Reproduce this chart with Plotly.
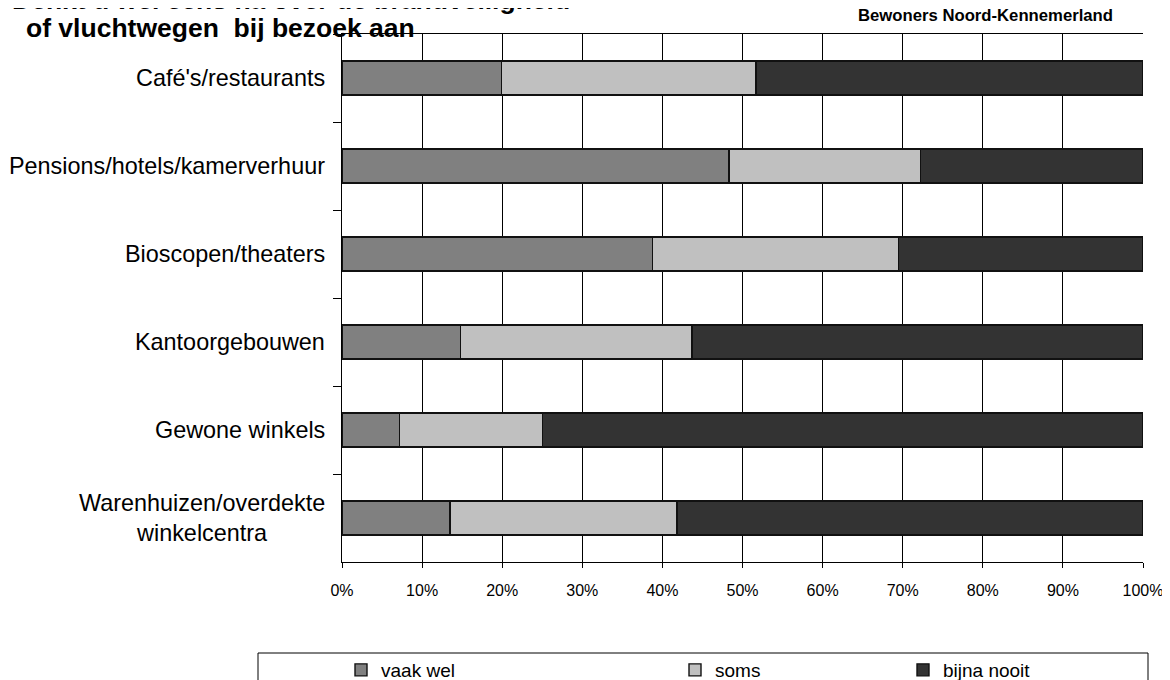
import plotly.graph_objects as go

categories = ["Café's/restaurants", "Pensions/hotels/kamerverhuur", "Bioscopen/theaters",
              "Kantoorgebouwen", "Gewone winkels", "Warenhuizen/overdekte<br>winkelcentra"]
series_names = ["vaak wel", "soms", "bijna nooit"]
vaak_wel = [19.9, 48.3, 38.8, 14.8, 7.2, 13.5]
soms = [31.8, 23.9, 30.7, 28.9, 17.8, 28.3]
bijna_nooit = [48.3, 27.8, 30.5, 56.3, 75.0, 58.2]
x_ticks = [0, 10, 20, 30, 40, 50, 60, 70, 80, 90, 100]
title_line1 = "Denkt u wel eens na over de brandveiligheid"
title_line2 = "of vluchtwegen  bij bezoek aan"
subtitle = "Bewoners Noord-Kennemerland"

colors = ["#808080", "#C0C0C0", "#333333"]
FONT = "Arial, Liberation Sans, Helvetica, sans-serif"

OFF = 8  # page body margin
W, H = 1170 - OFF, 680 - OFF
PLOT_L, PLOT_R, PLOT_T, PLOT_B = 342, 1143, 34, 562  # page pixel coords
ML = PLOT_L - OFF
MR = W - (PLOT_R - OFF)
MT = PLOT_T - OFF
MB = H - (PLOT_B - OFF)
PW = PLOT_R - PLOT_L
PH = PLOT_B - PLOT_T

def px_x(p):
    return (p - PLOT_L) / PW

def px_y(p):
    return (PLOT_B - p) / PH

fig = go.Figure()
legend_ids = ["legend", "legend2", "legend3"]
for name, vals, col, lid in zip(series_names, [vaak_wel, soms, bijna_nooit], colors, legend_ids):
    fig.add_trace(go.Bar(
        y=categories, x=[v / 100 for v in vals], name=name, orientation="h",
        marker=dict(color=col, line=dict(color="#111111", width=1.4)),
        width=0.39, legend=lid,
    ))

legend_text_x = [381, 715, 943]
leg_common = dict(orientation="h", bgcolor="rgba(0,0,0,0)", borderwidth=0,
                  font=dict(family=FONT, size=19, color="#000"),
                  xanchor="left", yanchor="middle", y=px_y(670))
layout_legends = {}
for lid, tx in zip(legend_ids, legend_text_x):
    layout_legends[lid] = dict(x=px_x(tx - 40), **leg_common)

fig.update_layout(
    width=W, height=H,
    margin=dict(l=ML, r=MR, t=MT, b=MB, autoexpand=False),
    paper_bgcolor="white", plot_bgcolor="white",
    barmode="stack", bargap=0.61,
    showlegend=True,
    font=dict(family=FONT, color="#000"),
    **layout_legends,
)

fig.update_xaxes(
    range=[0, 1], tickvals=[t / 100 for t in x_ticks], ticktext=[f"{t}%" for t in x_ticks],
    showgrid=True, gridcolor="#000", gridwidth=1,
    showline=True, linecolor="#000", linewidth=1, mirror=True,
    ticks="outside", ticklen=5, tickcolor="#000",
    tickfont=dict(family=FONT, size=16, color="#000"),
    ticklabelstandoff=9, zeroline=False, fixedrange=True,
)
fig.update_yaxes(
    autorange="reversed", showgrid=False,
    showline=True, linecolor="#000", linewidth=1,
    ticks="outside", ticklen=8, tickcolor="#000", tickson="boundaries",
    showticklabels=False, fixedrange=True,
)

for cat in categories:
    fig.add_annotation(
        x=0, xref="paper", y=cat, yref="y", text=cat, showarrow=False,
        xanchor="right", yanchor="middle", align="center", xshift=-15,
        font=dict(family=FONT, size=23.4, color="#000"),
    )

fig.add_annotation(x=px_x(10), xref="paper", y=1, yref="paper", text=f"<b>{title_line1}</b>",
                   showarrow=False, xanchor="left", yanchor="middle", yshift=PLOT_T,
                   font=dict(family=FONT, size=26.5, color="#000"))
fig.add_annotation(x=px_x(24), xref="paper", y=1, yref="paper",
                   text="<b>" + title_line2.replace("  ", "\u00a0 ") + "</b>",
                   showarrow=False, xanchor="left", yanchor="middle", yshift=PLOT_T - 28,
                   font=dict(family=FONT, size=26.5, color="#000"))
fig.add_annotation(x=px_x(985), xref="paper", y=1, yref="paper", text=f"<b>{subtitle}</b>",
                   showarrow=False, xanchor="center", yanchor="middle", yshift=PLOT_T - 15,
                   font=dict(family=FONT, size=16.7, color="#000"))

# legend frame
fig.add_shape(type="rect", xref="paper", yref="paper",
              x0=px_x(258), x1=px_x(1148), y0=px_y(653), y1=px_y(700),
              line=dict(color="#000", width=1), fillcolor="rgba(0,0,0,0)", layer="below")

fig.write_html("out.html")
